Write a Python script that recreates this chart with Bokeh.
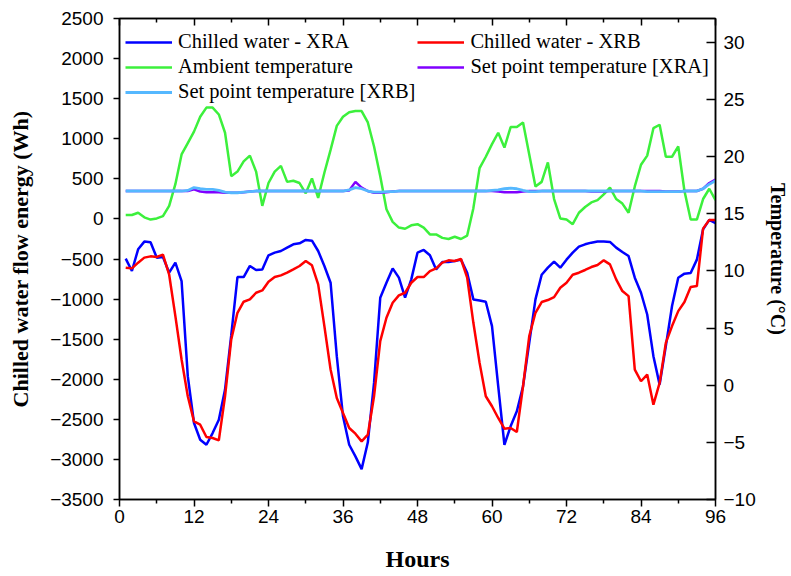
from bokeh.plotting import figure
from bokeh.models import (Range1d, LinearAxis, FixedTicker, SingleIntervalTicker,
                          Legend, LegendItem, CustomLabelingPolicy)
from bokeh.embed import file_html
from bokeh.resources import INLINE

hours = list(range(1, 97))

xra = [
    -496, -650, -379, -283, -292, -483, -475, -671, -546, -775,
    -1962, -2546, -2754, -2817, -2671, -2504, -2129, -1450, -725, -725,
    -587, -637, -630, -454, -421, -400, -358, -317, -304, -262,
    -271, -400, -587, -796, -1712, -2462, -2817, -2962, -3121, -2787,
    -2046, -983, -796, -617, -733, -983, -754, -421, -387, -454,
    -630, -537, -537, -525, -508, -671, -1004, -1017, -1033, -1337,
    -2087, -2817, -2587, -2400, -2087, -1546, -1004, -696, -608, -533,
    -608, -508, -421, -346, -317, -296, -283, -283, -287, -358,
    -412, -463, -733, -921, -1192, -1712, -2067, -1587, -1087, -733,
    -683, -675, -508, -129, -12, -54,
]

xrb = [
    -608, -617, -546, -483, -467, -475, -446, -696, -1212, -1754,
    -2212, -2525, -2567, -2721, -2733, -2762, -2212, -1504, -1171, -1033,
    -1004, -921, -892, -783, -725, -704, -671, -630, -587, -525,
    -579, -817, -1337, -1879, -2233, -2421, -2608, -2679, -2775, -2692,
    -2212, -1525, -1233, -1046, -954, -921, -796, -725, -725, -650,
    -617, -546, -517, -525, -500, -733, -1296, -1796, -2212, -2337,
    -2483, -2617, -2608, -2658, -2087, -1462, -1171, -1037, -1012, -975,
    -858, -796, -696, -671, -637, -600, -575, -517, -567, -754,
    -900, -963, -1879, -2025, -1942, -2317, -2046, -1546, -1337, -1150,
    -1037, -850, -837, -121, -12, -12,
]

ambient = [
    14.9, 14.9, 15.1, 14.7, 14.5, 14.6, 14.8, 15.7, 17.6, 20.2,
    21.2, 22.2, 23.5, 24.3, 24.3, 23.7, 22.1, 18.3, 18.7, 19.6,
    20.1, 18.7, 15.7, 17.7, 18.7, 19.2, 17.8, 17.9, 17.7, 16.8,
    18.1, 16.4, 18.6, 20.6, 22.7, 23.5, 23.9, 24.0, 24.0, 23.0,
    20.9, 18.3, 15.4, 14.3, 13.8, 13.7, 14.0, 14.1, 13.8, 13.2,
    13.2, 12.9, 12.8, 13.0, 12.8, 13.1, 15.5, 19.0, 20.0, 21.1,
    22.1, 20.8, 22.6, 22.6, 23.0, 20.2, 17.4, 17.8, 19.5, 16.3,
    14.6, 14.5, 14.1, 15.1, 15.6, 16.0, 16.2, 16.7, 17.3, 16.3,
    15.9, 15.1, 17.4, 19.3, 20.1, 22.5, 22.8, 20.0, 20.0, 20.9,
    17.0, 14.5, 14.5, 16.3, 17.2, 16.2,
]

sp_xra = [
    17.0, 17.0, 17.0, 17.0, 17.0, 17.0, 17.0, 17.0, 17.0, 17.0,
    17.0, 17.15, 16.95, 16.9, 16.9, 16.9, 16.85, 16.85, 16.85, 16.9,
    16.95, 17.0, 17.0, 17.0, 17.0, 17.0, 17.0, 17.0, 17.0, 17.0,
    17.0, 17.0, 17.0, 17.0, 17.0, 17.0, 17.05, 17.8, 17.3, 17.0,
    16.85, 16.85, 16.9, 16.95, 17.0, 17.0, 17.0, 17.0, 17.0, 17.0,
    17.0, 17.0, 17.0, 17.0, 17.0, 17.0, 17.0, 17.0, 17.0, 17.0,
    16.95, 16.9, 16.9, 16.9, 16.95, 17.0, 17.0, 17.0, 17.0, 17.0,
    17.0, 17.0, 17.0, 17.0, 17.0, 16.95, 16.95, 16.95, 17.0, 17.0,
    17.0, 17.0, 17.0, 17.0, 17.0, 17.0, 17.0, 16.95, 16.95, 16.95,
    17.0, 17.0, 17.0, 17.2, 17.7, 18.0,
]

sp_xrb = [
    17.0, 17.0, 17.0, 17.0, 17.0, 17.0, 17.0, 17.0, 17.0, 17.0,
    17.05, 17.3, 17.2, 17.15, 17.15, 17.05, 16.9, 16.85, 16.85, 16.9,
    16.95, 17.0, 17.0, 17.0, 17.0, 17.0, 17.0, 17.0, 17.0, 17.0,
    17.0, 17.0, 17.0, 17.0, 17.0, 17.0, 17.1, 17.3, 17.2, 17.0,
    16.9, 16.9, 16.95, 16.95, 17.0, 17.0, 17.0, 17.0, 17.0, 17.0,
    17.0, 17.0, 17.0, 17.0, 17.0, 17.0, 17.0, 17.0, 17.0, 17.05,
    17.1, 17.2, 17.25, 17.2, 17.05, 16.95, 16.95, 17.0, 17.0, 17.0,
    17.0, 17.0, 17.0, 17.0, 17.0, 17.0, 17.0, 17.0, 17.0, 17.0,
    17.0, 17.0, 17.0, 17.0, 16.95, 16.95, 16.95, 16.95, 16.95, 16.95,
    17.0, 17.0, 17.0, 17.2, 17.6, 17.9,
]

x_ticks = [0, 12, 24, 36, 48, 60, 72, 84, 96]
x_minor = [6, 18, 30, 42, 54, 66, 78, 90]

labels = ["Chilled water - XRA", "Chilled water - XRB", "Ambient temperature",
          "Set point temperature [XRA]", "Set point temperature [XRB]"]
colors = ["#0000FF", "#FF0000", "#3CF03C", "#8000FF", "#55B8FF"]

TICK_FONT = "Liberation Sans"
SERIF = "Liberation Serif"

p = figure(width=791, height=576, output_backend="svg", toolbar_location=None,
           x_range=Range1d(0, 96), y_range=Range1d(-3500, 2500),
           min_border_left=119, min_border_right=76, min_border_top=18,
           min_border_bottom=77, x_axis_location=None, y_axis_location=None)
p.extra_y_ranges = {"temp": Range1d(-10, 32.1)}
p.grid.visible = False
p.outline_line_color = "black"
p.outline_line_width = 1.5
p.background_fill_color = "white"
p.border_fill_color = "white"

def style(ax, size="19px"):
    ax.axis_line_color = "black"
    ax.axis_line_width = 1.5
    ax.major_tick_line_color = "black"
    ax.major_tick_line_width = 1.5
    ax.minor_tick_line_color = "black"
    ax.minor_tick_line_width = 1.5
    ax.major_label_text_font = TICK_FONT
    ax.major_label_text_font_size = size
    ax.major_label_text_color = "black"
    ax.axis_label_text_font = SERIF
    ax.axis_label_text_font_style = "bold"
    ax.axis_label_text_color = "black"

xb = LinearAxis(ticker=FixedTicker(ticks=x_ticks, minor_ticks=x_minor),
                axis_label="Hours")
style(xb)
xb.major_tick_out = 7
xb.major_tick_in = 0
xb.minor_tick_out = 4
xb.minor_tick_in = 0
xb.major_label_standoff = 3
xb.axis_label_standoff = 20
xb.axis_label_text_font_size = "24px"
p.add_layout(xb, "below")

# top mirror axis: ticks only, no labels drawn
xt = LinearAxis(ticker=FixedTicker(ticks=x_ticks, minor_ticks=x_minor),
                major_label_policy=CustomLabelingPolicy(code="""
                    for (const i of [...indices]) indices.unset(i)
                    return indices
                """))
style(xt)
xt.major_tick_out = 0
xt.major_tick_in = 7
xt.minor_tick_out = 0
xt.minor_tick_in = 4
xt.major_label_text_font_size = "1px"
xt.major_label_standoff = 0
p.add_layout(xt, "above")

yl = LinearAxis(ticker=SingleIntervalTicker(interval=500, num_minor_ticks=0),
                axis_label="Chilled water flow energy (Wh)")
style(yl)
yl.major_tick_out = 6
yl.major_tick_in = 0
yl.minor_tick_out = 0
yl.major_label_standoff = 10
yl.axis_label_standoff = 14
yl.axis_label_text_font_size = "22px"
p.add_layout(yl, "left")

yr = LinearAxis(y_range_name="temp",
                ticker=SingleIntervalTicker(interval=5, num_minor_ticks=0),
                axis_label="Temperature (°C)")
style(yr)
yr.major_tick_out = 0
yr.major_tick_in = 9
yr.minor_tick_out = 0
yr.major_label_standoff = 8
yr.axis_label_standoff = 8
yr.axis_label_text_font_size = "20px"
p.add_layout(yr, "right")

r1 = p.line(hours, xra, line_color=colors[0], line_width=2.5)
r2 = p.line(hours, xrb, line_color=colors[1], line_width=2.5)
r3 = p.line(hours, ambient, line_color=colors[2], line_width=2.5, y_range_name="temp")
r4 = p.line(hours, sp_xra, line_color=colors[3], line_width=2.5, y_range_name="temp")
r5 = p.line(hours, sp_xrb, line_color=colors[4], line_width=2.8, y_range_name="temp")

legend = Legend(items=[LegendItem(label=l, renderers=[r]) for l, r in
                       zip(labels, [r1, r2, r3, r4, r5])],
                orientation="horizontal", ncols=2, location=(6, 396))
legend.label_text_font = SERIF
legend.label_text_font_size = "20.5px"
legend.label_text_color = "black"
legend.glyph_width = 47
legend.glyph_height = 20
legend.label_height = 20
legend.label_standoff = 6
legend.spacing = 2
legend.padding = 0
legend.margin = 0
legend.border_line_alpha = 0
legend.background_fill_alpha = 0
p.add_layout(legend, "center")

open("out.html", "w").write(file_html(p, INLINE))
